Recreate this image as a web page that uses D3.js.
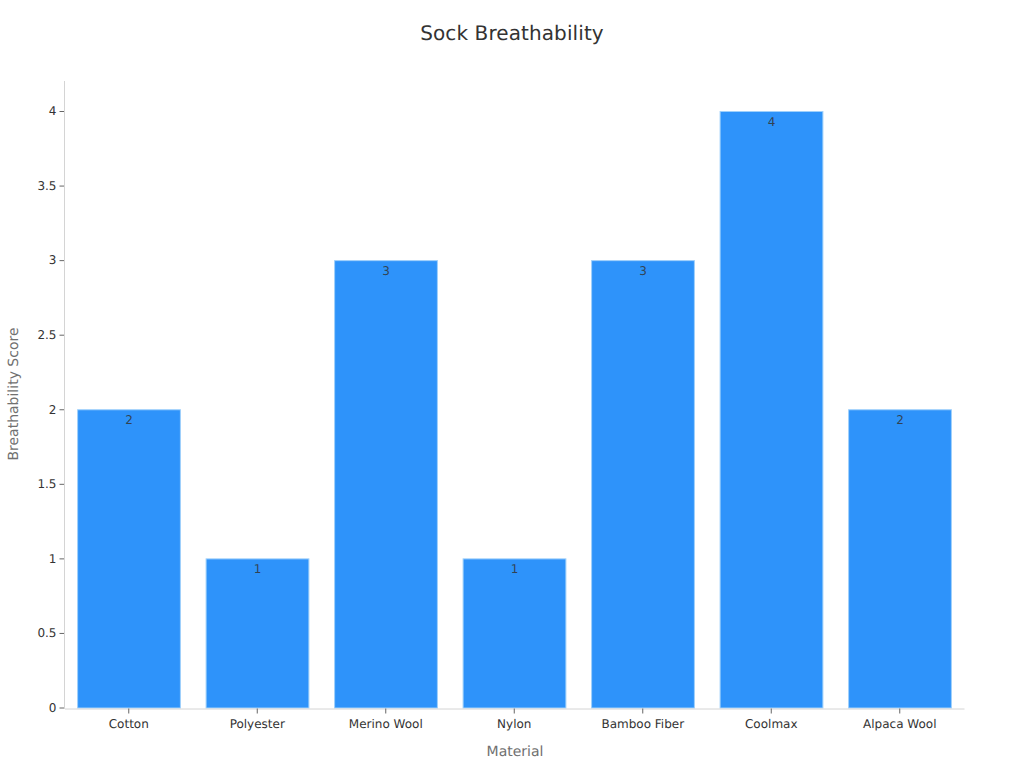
<!DOCTYPE html>
<html>
<head>
<meta charset="utf-8">
<script src="https://cdn.jsdelivr.net/npm/d3@7"></script>
<style>
    html, body { margin: 0; padding: 0; background: #fff; }
    svg { display: block; text-rendering: geometricPrecision; }
    text { font-family: "DejaVu Sans", sans-serif; }
</style>
</head>
<body>
<div id="chart"></div>
<script>
// data
const materials = ["Cotton", "Polyester", "Merino Wool", "Nylon", "Bamboo Fiber", "Coolmax", "Alpaca Wool"]
const scores = [2, 1, 3, 1, 3, 4, 2]
const yTicks = [0, 0.5, 1, 1.5, 2, 2.5, 3, 3.5, 4]

const width = 1024, height = 768
const plot = { left: 64.5, right: 964, top: 81, bottom: 708.5 }

const svg = d3.select("#chart").append("svg")
    .attr("width", width)
    .attr("height", height)

const x = d3.scaleBand()
    .domain(materials)
    .range([plot.left, plot.right])
    .paddingInner(0.2)
    .paddingOuter(0.1)

const y = d3.scaleLinear()
    .domain([0, 4])
    .range([plot.bottom - 1, 111])

// bars
svg.append("g")
    .attr("transform", "translate(0.25,0.5)")
    .selectAll("rect")
    .data(materials)
    .join("rect")
    .attr("x", d => x(d))
    .attr("y", (d, i) => y(scores[i]))
    .attr("width", x.bandwidth())
    .attr("height", (d, i) => y(0) - y(scores[i]))
    .attr("fill", "#2e93fa")
    .attr("stroke", "#9fd0fb")
    .attr("stroke-width", 1)

// value labels
svg.append("g")
    .attr("transform", "translate(0.25,0.5)")
    .selectAll("text")
    .data(materials)
    .join("text")
    .attr("x", d => x(d) + x.bandwidth() / 2)
    .attr("y", (d, i) => y(scores[i]) + 14)
    .attr("text-anchor", "middle")
    .attr("font-size", 12)
    .attr("fill", "#333")
    .attr("fill-opacity", 0.85)
    .text((d, i) => scores[i])

// y axis
const yAxis = svg.append("g")
    .attr("transform", `translate(${plot.left},0)`)
    .call(d3.axisLeft(y).tickValues(yTicks).tickFormat(d => d).tickSize(5).tickPadding(3).tickSizeOuter(0))
yAxis.select(".domain").remove()
yAxis.append("line")
    .attr("y1", plot.top)
    .attr("y2", plot.bottom)
    .attr("stroke", "#d4d4d4")
yAxis.selectAll(".tick line").attr("stroke", "#666")
yAxis.selectAll(".tick text").attr("font-size", 12).attr("fill", "#333")
    .style("font-family", '"DejaVu Sans", sans-serif')

// x axis
const xAxis = svg.append("g")
    .attr("transform", `translate(0,${plot.bottom})`)
    .call(d3.axisBottom(x).tickSize(5).tickPadding(6).tickSizeOuter(0))
xAxis.select(".domain").attr("stroke", "#d4d4d4")
xAxis.selectAll(".tick line").attr("stroke", "#666")
xAxis.selectAll(".tick text").attr("font-size", 12).attr("fill", "#333")
    .style("font-family", '"DejaVu Sans", sans-serif')

// titles
svg.append("text")
    .attr("x", 512)
    .attr("y", 40)
    .attr("text-anchor", "middle")
    .attr("font-size", 20)
    .attr("letter-spacing", 0.1)
    .attr("fill", "#333")
    .text("Sock Breathability")

svg.append("text")
    .attr("x", 515)
    .attr("y", 756)
    .attr("text-anchor", "middle")
    .attr("font-size", 14)
    .attr("fill", "#707070")
    .text("Material")

svg.append("text")
    .attr("transform", "translate(18,394) rotate(-90)")
    .attr("text-anchor", "middle")
    .attr("font-size", 14)
    .attr("fill", "#707070")
    .text("Breathability Score")
</script>
</body>
</html>
